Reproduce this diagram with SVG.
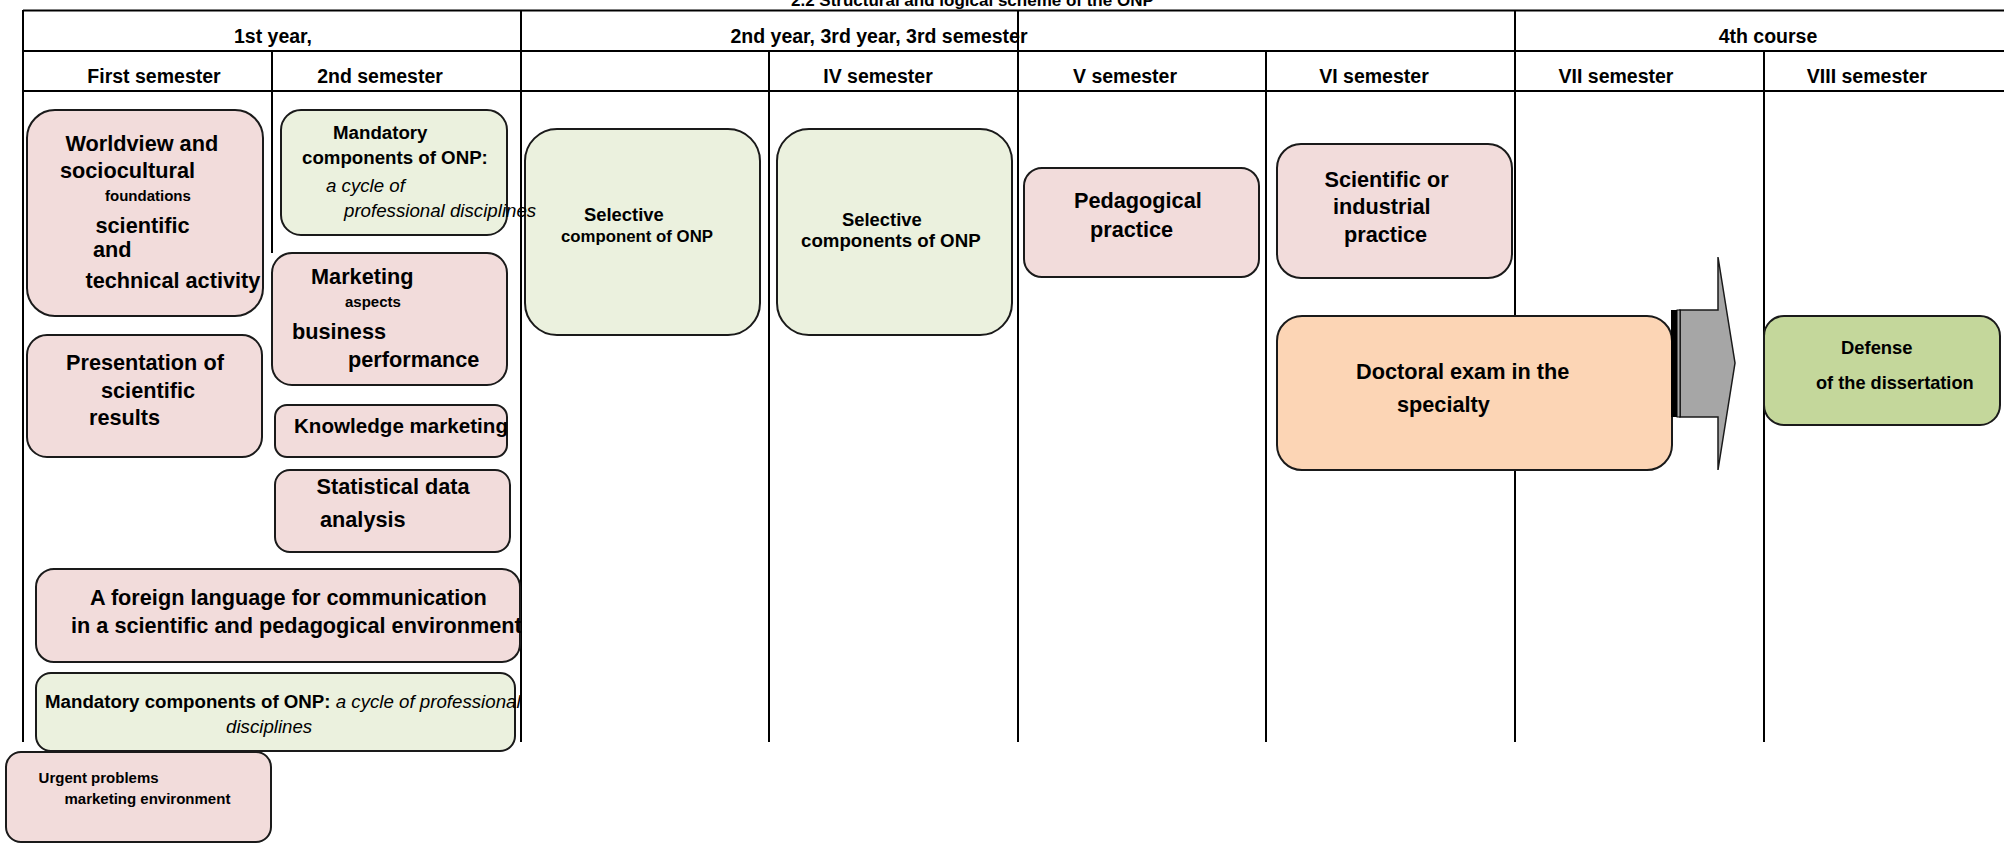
<svg xmlns="http://www.w3.org/2000/svg" width="2004" height="843" viewBox="0 0 2004 843">
<style>
text{font-family:"Liberation Sans",Arial,sans-serif;font-weight:bold;fill:#000}
.h{font-size:19.5px;text-anchor:middle}
.L{font-size:21.7px}
.M{font-size:18.7px}
.S{font-size:15px}
.it{font-style:italic;font-weight:normal}
.grid line{stroke:#000;stroke-width:2}
.pink{fill:#f2dcdb;stroke:#1a1a1a;stroke-width:2}
.lg{fill:#ebf1de;stroke:#1a1a1a;stroke-width:2}
.dg{fill:#c4d79b;stroke:#1a1a1a;stroke-width:2}
.or{fill:#fcd5b5;stroke:#1a1a1a;stroke-width:2}
</style>
<rect width="2004" height="843" fill="#fff"/>
<text x="791" y="5.5" style="font-size:17px">2.2 Structural and logical scheme of the ONP</text>
<g id="table" class="grid">
<line x1="23" y1="10.5" x2="2004" y2="10.5"/>
<line x1="23" y1="51" x2="2004" y2="51"/>
<line x1="23" y1="91" x2="2004" y2="91"/>
<line x1="23" y1="10" x2="23" y2="742"/>
<line x1="272" y1="51" x2="272" y2="253"/>
<line x1="521" y1="10" x2="521" y2="742"/>
<line x1="769" y1="51" x2="769" y2="742"/>
<line x1="1018" y1="10" x2="1018" y2="742"/>
<line x1="1266" y1="51" x2="1266" y2="742"/>
<line x1="1515" y1="10" x2="1515" y2="742"/>
<line x1="1764" y1="51" x2="1764" y2="742"/>
</g>
<g id="headers">
<text class="h" x="273" y="43">1st year,</text>
<text class="h" x="879" y="43">2nd year, 3rd year, 3rd semester</text>
<text class="h" x="1768" y="43">4th course</text>
<text class="h" x="154" y="83">First semester</text>
<text class="h" x="380" y="83">2nd semester</text>
<text class="h" x="878" y="83">IV semester</text>
<text class="h" x="1125" y="83">V semester</text>
<text class="h" x="1374" y="83">VI semester</text>
<text class="h" x="1616" y="83">VII semester</text>
<text class="h" x="1867" y="83">VIII semester</text>
</g>
<g id="worldview">
<rect class="pink" x="27" y="110" width="236" height="206" rx="28"/>
<text class="L" x="65.5" y="151">Worldview and</text>
<text class="L" x="60" y="178">sociocultural</text>
<text class="S" x="105" y="201">foundations</text>
<text class="L" x="95.5" y="233">scientific</text>
<text class="L" x="93" y="257">and</text>
<text class="L" x="85.5" y="288">technical activity</text>
</g>
<g id="marketing">
<rect class="pink" x="272" y="253" width="235" height="132" rx="20"/>
<text class="L" x="311" y="284">Marketing</text>
<text class="S" x="345" y="307">aspects</text>
<text class="L" x="292" y="339">business</text>
<text class="L" x="348" y="367">performance</text>
</g>
<g id="presentation">
<rect class="pink" x="27" y="335" width="235" height="122" rx="20"/>
<text class="L" x="66" y="370">Presentation of</text>
<text class="L" x="101" y="398">scientific</text>
<text class="L" x="89" y="425">results</text>
</g>
<g id="knowledge">
<rect class="pink" x="275" y="405" width="232" height="52" rx="12"/>
<text class="L" x="294" y="433" style="font-size:20.6px">Knowledge marketing</text>
</g>
<g id="statistical">
<rect class="pink" x="275" y="470" width="235" height="82" rx="15"/>
<text class="L" x="316.5" y="494">Statistical data</text>
<text class="L" x="320" y="527">analysis</text>
</g>
<g id="foreign">
<rect class="pink" x="36" y="569" width="484" height="93" rx="18"/>
<text class="L" x="90" y="605">A foreign language for communication</text>
<text class="L" x="71" y="633">in a scientific and pedagogical environment</text>
</g>
<g id="mandatory2">
<rect class="lg" x="36" y="673" width="479" height="78" rx="15"/>
<text class="M" x="45" y="708">Mandatory components of ONP:<tspan class="it"> a cycle of professional</tspan></text>
<text class="M it" x="226" y="733">disciplines</text>
</g>
<g id="urgent">
<rect class="pink" x="6" y="752" width="265" height="90" rx="15"/>
<text class="S" x="38.6" y="783">Urgent problems</text>
<text class="S" x="64.5" y="804">marketing environment</text>
</g>
<g id="selective1">
<rect class="lg" x="525" y="129" width="235" height="206" rx="32"/>
<text x="584" y="221" style="font-size:18.4px">Selective</text>
<text x="561" y="242" style="font-size:16.8px">component of ONP</text>
</g>
<g id="mandatory1">
<rect class="lg" x="281" y="110" width="226" height="125" rx="20"/>
<text class="M" x="333" y="139">Mandatory</text>
<text class="M" x="302" y="164">components of ONP:</text>
<text class="M it" x="326" y="192">a cycle of</text>
<text class="M it" x="344" y="217">professional disciplines</text>
</g>
<g id="selective2">
<rect class="lg" x="777" y="129" width="235" height="206" rx="32"/>
<text x="842" y="226" style="font-size:18.4px">Selective</text>
<text class="M" x="801" y="247">components of ONP</text>
</g>
<g id="pedagogical">
<rect class="pink" x="1024" y="168" width="235" height="109" rx="18"/>
<text class="L" x="1074" y="208">Pedagogical</text>
<text class="L" x="1090" y="237">practice</text>
</g>
<g id="scientific">
<rect class="pink" x="1277" y="144" width="235" height="134" rx="24"/>
<text class="L" x="1324.5" y="187">Scientific or</text>
<text class="L" x="1333" y="214">industrial</text>
<text class="L" x="1344" y="242">practice</text>
</g>
<g id="doctoral">
<rect class="or" x="1277" y="316" width="395" height="154" rx="25"/>
<text class="L" x="1356" y="379">Doctoral exam in the</text>
<text class="L" x="1397" y="412">specialty</text>
</g>
<g id="connectors">
<polygon points="1680,310 1718,310 1718,257 1735,363 1718,470 1718,417 1680,417" fill="#a6a6a6" stroke="#1a1a1a" stroke-width="1.5"/>
<rect x="1671" y="310" width="6" height="107" fill="#000"/>
<rect x="1677" y="310" width="3" height="107" fill="#a6a6a6" stroke="#000" stroke-width="1"/>
</g>
<g id="defense">
<rect class="dg" x="1764" y="316" width="236" height="109" rx="20"/>
<text x="1841" y="354" style="font-size:18.4px">Defense</text>
<text x="1816" y="389" style="font-size:18.2px">of the dissertation</text>
</g>
</svg>
